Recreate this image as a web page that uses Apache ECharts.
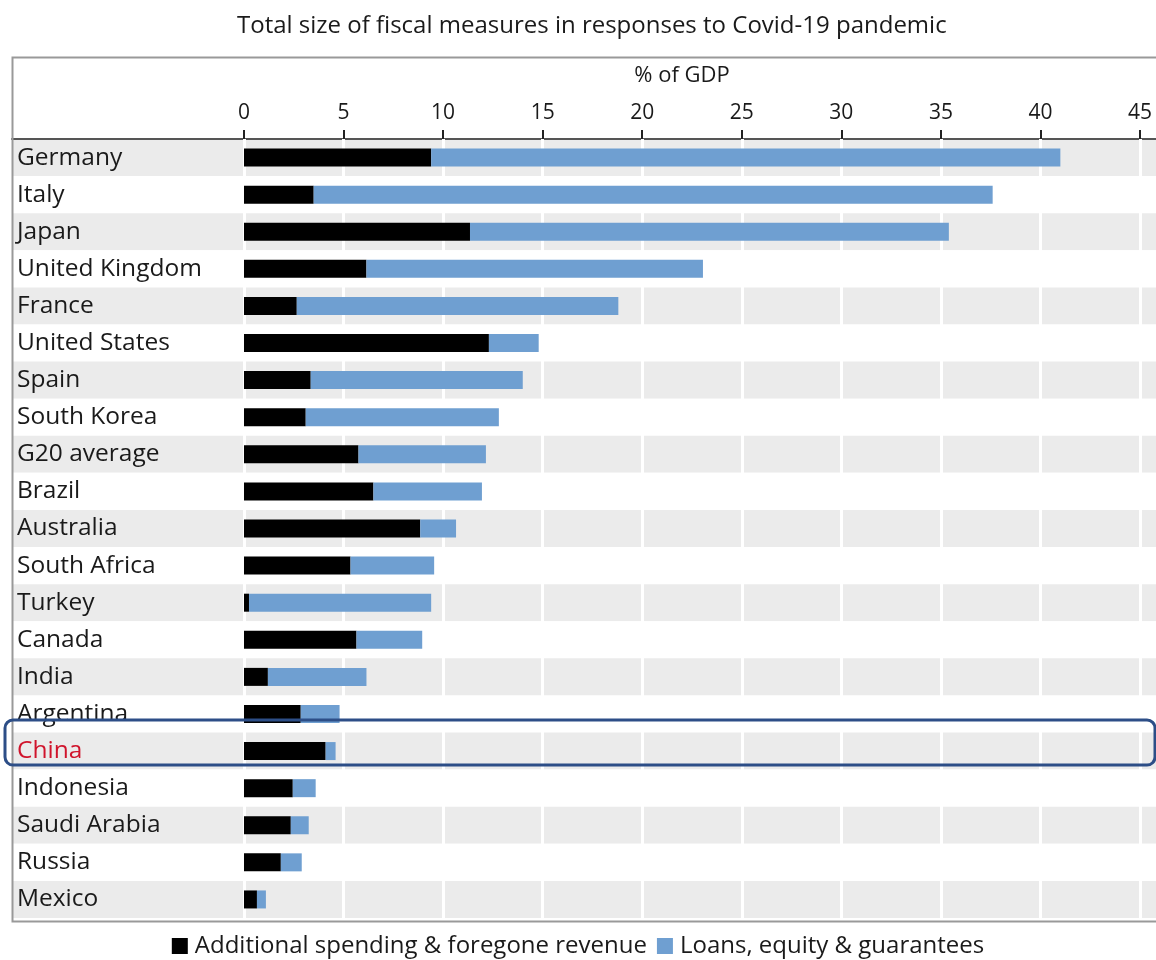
<!DOCTYPE html>
<html>
<head>
<meta charset="utf-8">
<script src="https://cdn.jsdelivr.net/npm/echarts@6/dist/echarts.min.js"></script>
<style>html,body{margin:0;padding:0;background:#fff}#c{width:1156px;height:960px}</style>
</head>
<body>
<div id="c"></div>
<script>
const categories = ['Germany', 'Italy', 'Japan', 'United Kingdom', 'France', 'United States', 'Spain', 'South Korea', 'G20 average', 'Brazil', 'Australia', 'South Africa', 'Turkey', 'Canada', 'India', 'Argentina', 'China', 'Indonesia', 'Saudi Arabia', 'Russia', 'Mexico'];
const spending = [9.4, 3.5, 11.35, 6.15, 2.65, 12.3, 3.35, 3.1, 5.75, 6.5, 8.85, 5.35, 0.25, 5.65, 1.2, 2.85, 4.1, 2.45, 2.35, 1.85, 0.65];
const loans = [31.6, 34.1, 24.05, 16.9, 16.15, 2.5, 10.65, 9.7, 6.4, 5.45, 1.8, 4.2, 9.15, 3.3, 4.95, 1.95, 0.5, 1.15, 0.9, 1.05, 0.45];
const seriesNames = ['Additional spending & foregone revenue', 'Loans, equity & guarantees'];
const highlight = 'China';
const xMin = 0, xMax = 45, xStep = 5;

const FONT = 'Open Sans';
const chart = echarts.init(document.getElementById('c'), null, {renderer: 'canvas'});
const option = {
  backgroundColor: '#ffffff',
  textStyle: {fontFamily: FONT},
  animation: false,
  title: {
    text: 'Total size of fiscal measures in responses to Covid-19 pandemic',
    left: 232, top: 9,
    textStyle: {fontFamily: FONT, fontSize: 24, fontWeight: 'normal', color: '#1a1a1a'}
  },
  legend: {
    top: 929, left: 'center',
    icon: 'rect', itemWidth: 16, itemHeight: 16, itemGap: 10,
    textStyle: {fontFamily: FONT, fontSize: 24, color: '#1a1a1a', padding: [0, 0, 0, 2]},
    data: seriesNames
  },
  grid: [
    {left: 12, right: 0, top: 139, bottom: 42},
    {left: 244, right: 16, top: 139, bottom: 42}
  ],
  xAxis: [
    {gridIndex: 0, type: 'value', position: 'top', min: 0, max: 1, z: 0,
     axisLine: {show: true, lineStyle: {color: '#555', width: 2}},
     axisTick: {show: false}, axisLabel: {show: false}, splitLine: {show: false}},
    {gridIndex: 1, type: 'value', position: 'top', min: xMin, max: xMax, interval: xStep, z: 2,
     name: '% of GDP', nameLocation: 'middle', nameGap: 52,
     nameTextStyle: {fontFamily: FONT, fontSize: 22, color: '#1a1a1a', padding: [0, 20, 0, 0]},
     axisLine: {show: false},
     axisTick: {show: true, length: 9, lineStyle: {color: '#222', width: 2}},
     axisLabel: {fontFamily: FONT, fontSize: 21, color: '#1a1a1a', margin: 15},
     splitLine: {show: true, lineStyle: {color: '#ffffff', width: 3}}}
  ],
  yAxis: [
    {gridIndex: 0, type: 'category', data: categories, inverse: true, z: 0,
     axisLine: {show: false}, axisTick: {show: false}, axisLabel: {show: false},
     splitLine: {show: false},
     splitArea: {show: true, areaStyle: {color: ['#ebebeb', '#ffffff']}}},
    {gridIndex: 1, type: 'category', data: categories, inverse: true, z: 2,
     axisLine: {show: false}, axisTick: {show: false},
     axisLabel: {fontFamily: FONT, fontSize: 24.5, align: 'left', margin: 227,
       color: function (v) { return v === highlight ? '#d0142c' : '#1a1a1a'; }}}
  ],
  series: [
    {name: seriesNames[0], type: 'bar', stack: 'total', xAxisIndex: 1, yAxisIndex: 1,
     barWidth: 18, itemStyle: {color: '#000000'}, data: spending, z: 3},
    {name: seriesNames[1], type: 'bar', stack: 'total', xAxisIndex: 1, yAxisIndex: 1,
     barWidth: 18, itemStyle: {color: '#6f9fd1'}, data: loans, z: 3}
  ]
};
chart.setOption(option);

const cy = chart.convertToPixel({yAxisIndex: 1}, highlight);
chart.setOption({
  graphic: [
    {type: 'rect', left: 10, top: 55, z: 10, silent: true,
     shape: {x: 0, y: 0, width: 1170, height: 864},
     style: {fill: 'none', stroke: '#999999', lineWidth: 2}},
    {type: 'rect', z: 20, silent: true,
     shape: {x: 5, y: cy - 31, width: 1150, height: 45, r: 8},
     style: {fill: 'none', stroke: '#2d4e87', lineWidth: 3}}
  ]
});
</script>
</body>
</html>
